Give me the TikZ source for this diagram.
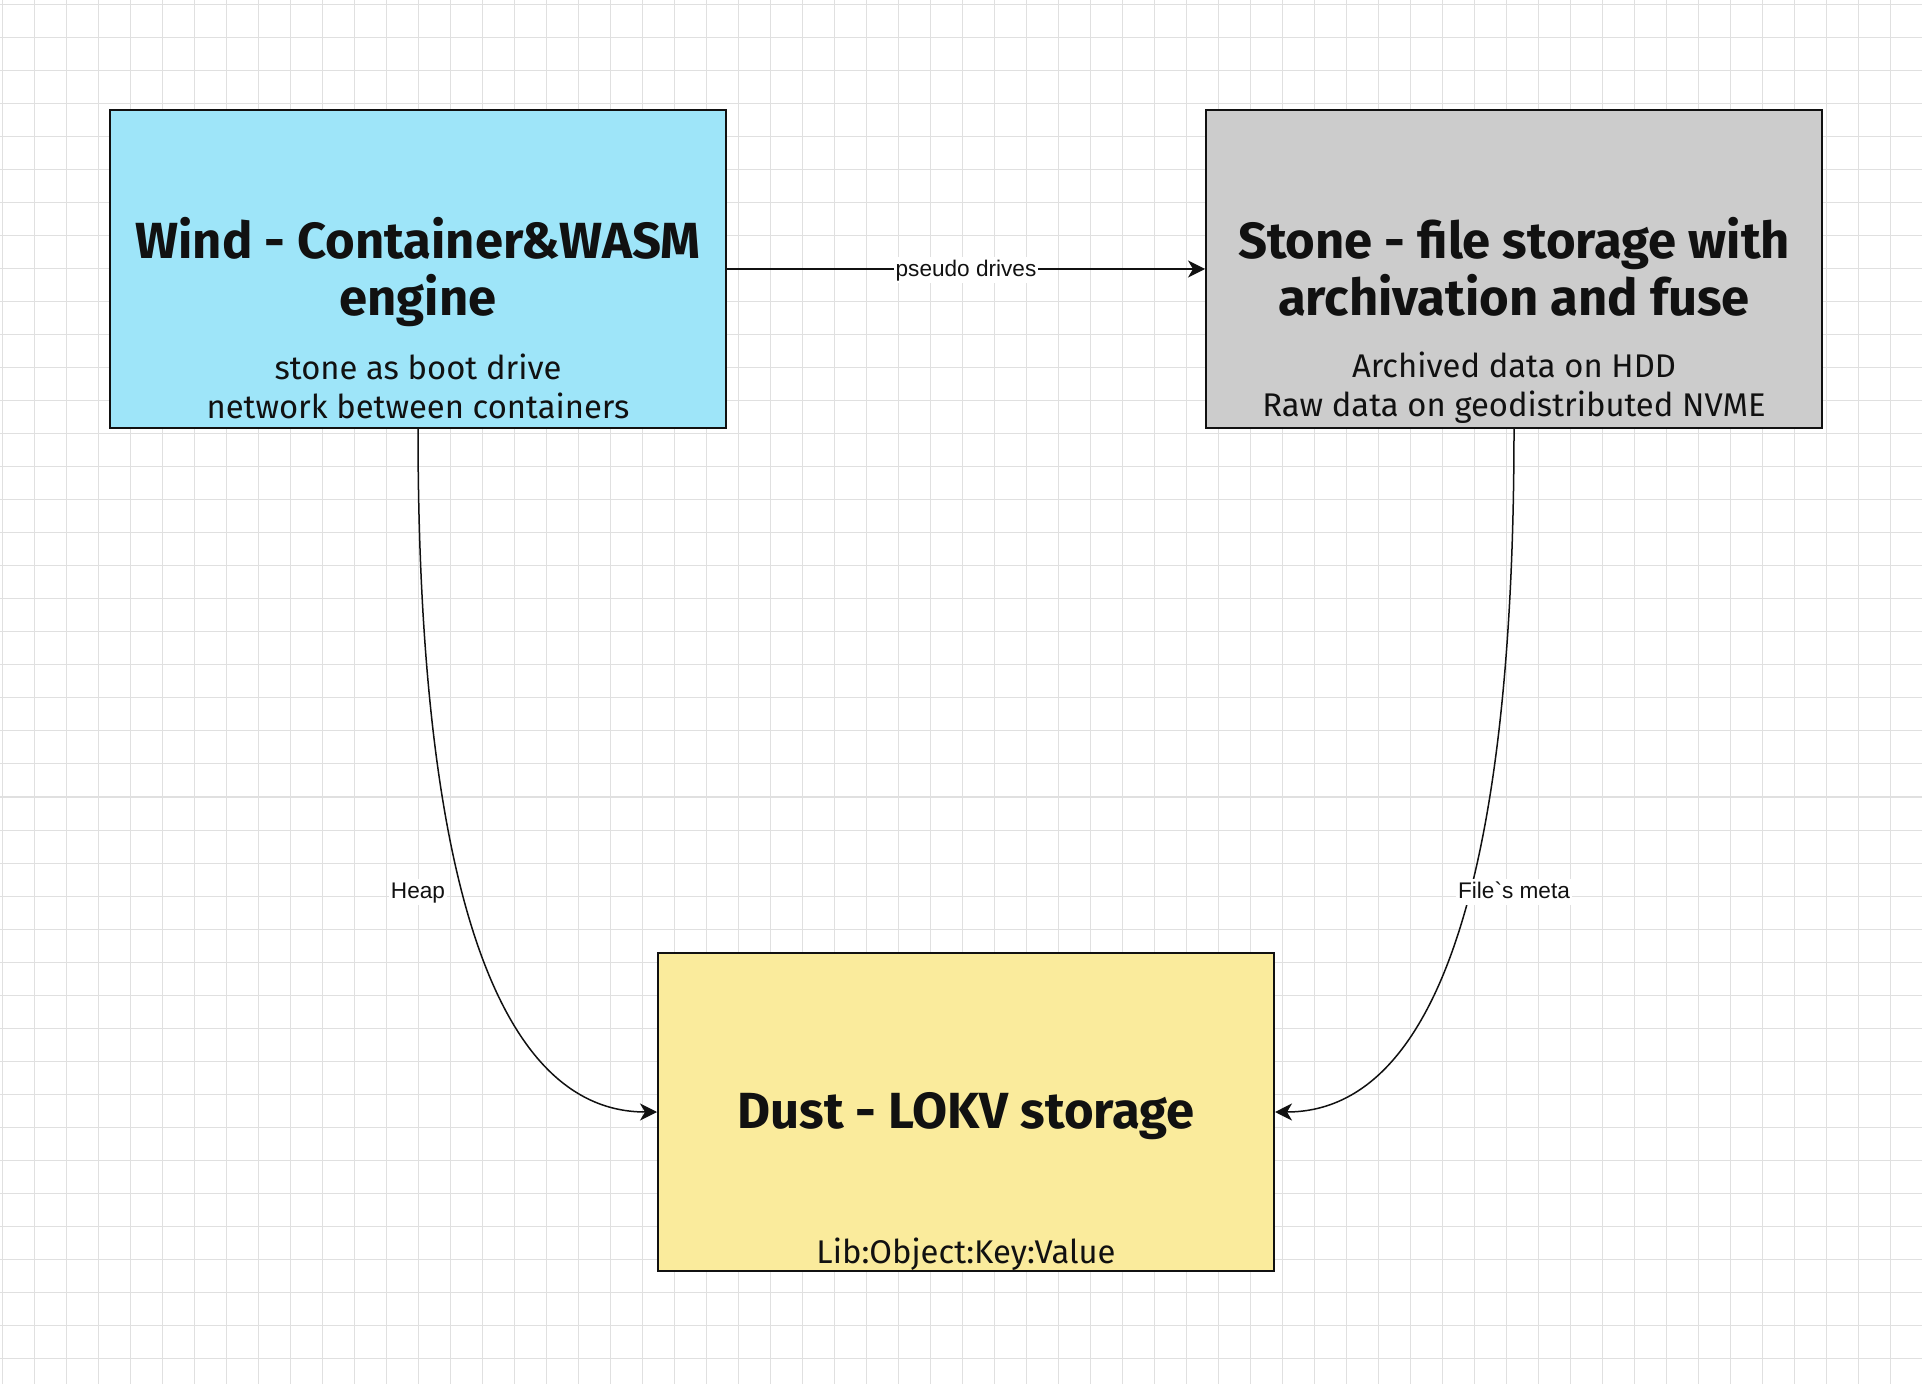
\documentclass[tikz,border=0pt]{standalone}
\usepackage{fontspec}
\setmainfont{Fira Sans}
\newfontfamily\edgefont{Liberation Sans}
\usetikzlibrary{arrows.meta,calc,positioning}

\definecolor{windblue}{HTML}{9EE5F9}
\definecolor{stonegray}{HTML}{CCCCCC}
\definecolor{dustyellow}{HTML}{FAEB9C}
\definecolor{inkblack}{HTML}{111111}
\definecolor{gridgray}{HTML}{E0E0E0}

\tikzset{
	block/.style={draw=inkblack,line width=1pt,minimum width=308pt,minimum height=159pt,inner sep=0pt},
	blocktitle/.style={anchor=base,align=center,text=inkblack,inner sep=0pt,
		font=\bfseries\fontsize{25.4}{28.75}\selectfont},
	blocknote/.style={anchor=base,align=center,text=inkblack,inner sep=0pt,
		font=\fontsize{16.4}{19.65}\selectfont},
	link/.style={draw=inkblack,line width=0.75pt,-{Stealth[length=8.5pt,width=8.5pt,inset=2.5pt]}},
	edgelabel/.style={fill=white,inner sep=1pt,text height=8.5pt,text depth=2.4pt,text=inkblack,
		font=\edgefont\fontsize{11.3}{13}\selectfont}
}

\begin{document}
\begin{tikzpicture}[x=0.5pt,y=-0.5pt]
		% Canvas and grid
		\fill[white] (0,0) rectangle (1922,1384);
		\useasboundingbox (0,0) rectangle (1922,1384);
		\foreach \gx in {0,...,59}
			\draw[gridgray,line width=0.5pt] (2.7+32*\gx,0) -- (2.7+32*\gx,1384);
		\foreach \gy in {0,...,41}
			\draw[gridgray,line width=0.5pt] (0,5+33*\gy) -- (1922,5+33*\gy);

		% Blocks
		\node[block,fill=windblue] (wind) at (418,269) {};
		\node[block,fill=stonegray] (stone) at (1514,269) {};
		\node[block,fill=dustyellow] (dust) at (966,1112) {};

		% Block texts (anchor base = last line)
		\node[blocktitle] (windtitle) at ([yshift=-23.5pt]wind.center) {Wind - Container\&WASM\\engine};
		\node[blocknote] (windnote) at ([yshift=-74.7pt]wind.center) {stone as boot drive\\network between containers};
		\node[blocktitle] (stonetitle) at ([yshift=-23.5pt]stone.center) {Stone - file storage with\\archivation and fuse};
		\node[blocknote] (stonenote) at ([yshift=-74pt]stone.center) {Archived data on HDD\\Raw data on geodistributed NVME};
		\node[blocktitle] (dusttitle) at ([yshift=-8pt]dust.center) {Dust - LOKV storage};
		\node[blocknote] (dustnote) at ([yshift=-75.8pt]dust.center) {Lib:Object:Key:Value};

		% Connectors
		\draw[link] (wind.east) -- node[edgelabel,yshift=-0.6pt] (driveslabel) {pseudo drives} (stone.west);
		\draw[link] (wind.south) .. controls ($(wind.south)!2/3!(wind.south |- dust.west)$)
			and ($(dust.west)!2/3!(wind.south |- dust.west)$) .. (dust.west);
		\node[edgelabel,yshift=-1pt] (heaplabel) at ($(wind.south)!0.675!(wind.south |- dust.west)$) {Heap};
		\draw[link] (stone.south) .. controls ($(stone.south)!2/3!(stone.south |- dust.east)$)
			and ($(dust.east)!2/3!(stone.south |- dust.east)$) .. (dust.east);
		\node[edgelabel,yshift=-1pt] (metalabel) at ($(stone.south)!0.675!(stone.south |- dust.east)$) {File`s meta};
	\end{tikzpicture}
\end{document}
